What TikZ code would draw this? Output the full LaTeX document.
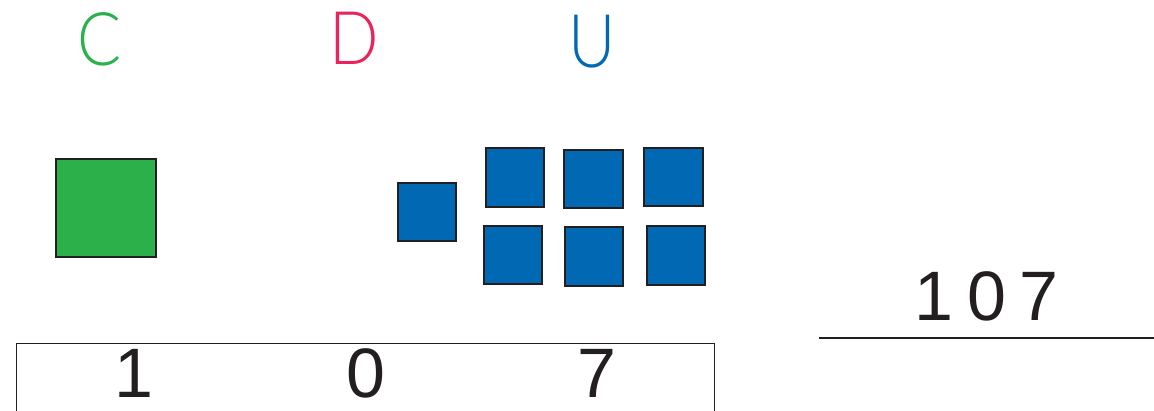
\documentclass[tikz,border=0pt]{standalone}
\usepackage{fontspec}
\setmainfont{Liberation Sans}
\IfFontExistsTF{Lato Light}
  {\newfontfamily\headfont{Lato Light}\newcommand\headscale{0.88}}
  {\newfontfamily\headfont{Liberation Sans}\newcommand\headscale{0.62}}
\definecolor{cgreen}{HTML}{2BB04A}
\definecolor{dred}{HTML}{E8245A}
\definecolor{ublue}{HTML}{0169B4}
\definecolor{ink}{HTML}{231F20}
\tikzset{
  head/.style={anchor=base,inner sep=0pt,font=\headfont\fontsize{74}{80}\selectfont},
  digit/.style={anchor=base,inner sep=0pt,text=ink,font=\fontsize{70}{80}\selectfont},
  block/.style={draw=ink,line width=2pt},
  hund/.style={block,fill=cgreen},
  unit/.style={block,fill=ublue}
}
\begin{document}
\begin{tikzpicture}[x=1pt,y=-1pt]
\useasboundingbox (0,0) rectangle (1154,411);
% headings
\node[head,text=cgreen] (hc) at (100,65.5) {\scalebox{\headscale}[1]{C}};
\node[head,text=dred] (hd) at (354,65) {\scalebox{\headscale}[1]{D}};
\node[head,text=ublue] (hu) at (592,68) {\scalebox{\headscale}[1]{U}};
% blocks
\draw[hund] (56,159) rectangle (156,257);
\draw[unit] (398,183) rectangle (456,241);
\draw[unit] (486,148) rectangle (544,207);
\draw[unit] (564,150) rectangle (623,208);
\draw[unit] (644,148) rectangle (703,206);
\draw[unit] (484,226) rectangle (542,284);
\draw[unit] (565,227) rectangle (623,286);
\draw[unit] (647,226) rectangle (705,285);
% table
\draw[draw=ink,line width=1.5pt] (16.5,420) -- (16.5,343.5) -- (714.5,343.5) -- (714.5,420);
\node[digit] (d1) at (134,398) {1};
\node[digit] (d0) at (366,398) {0};
\node[digit] (d7) at (597,398) {7};
% result
\node[digit,anchor=base west] (res) at (914,321) {1\hspace{14pt}0\hspace{13pt}7};
\draw[draw=ink,line width=2pt] (819,338) -- (1154,338);
\end{tikzpicture}
\end{document}
